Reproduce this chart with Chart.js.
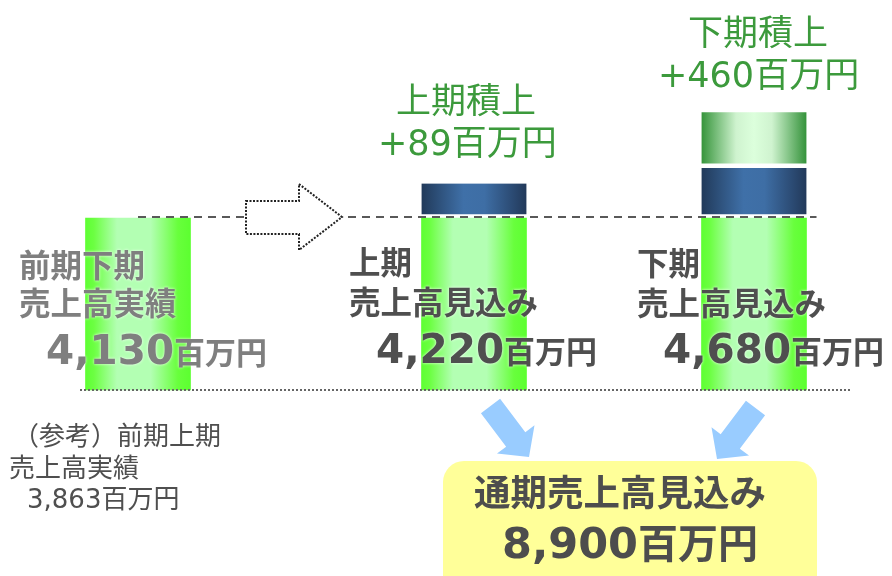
<!DOCTYPE html>
<html lang="ja">
<head>
<meta charset="utf-8">
<title>通期売上高見込み</title>
<script src="https://cdn.jsdelivr.net/npm/chart.js@4.4.1/dist/chart.umd.min.js"></script>
<style>
  html, body { margin: 0; padding: 0; background: #fff; }
  #wrap { position: relative; width: 892px; height: 576px; overflow: hidden; }
  #c { position: absolute; left: 0; top: 0; }
  .box { position: absolute; left: 443px; top: 461px; width: 374px; height: 150px; border-radius: 21px; background: #ffff99; }
  .t { position: absolute; white-space: pre; line-height: 1; font-family: "DejaVu Sans", "Noto Sans CJK JP", sans-serif; }
  .jp { font-family: "Noto Sans CJK JP", sans-serif; }
  .glow { text-shadow: 0 0 3px rgba(255,255,255,0.9); }
</style>
</head>
<body>
<div id="wrap">
  <canvas id="c" width="892" height="576"></canvas>
  <div class="box"></div>
</div>
<script>
// periods and amounts (百万円)
const periods = ['前期下期', '上期', '下期'];
const salesKind = ['売上高実績', '売上高見込み', '売上高見込み'];
const salesTotal = [4130, 4220, 4680];
const addOnTitle = [null, '上期積上', '下期積上'];
const addOnAmount = [null, 89, 460];
const prevFirstHalf = 3863;
const fullYearTotal = 8900;

// block heights as drawn on the slide (schematic, base block = 100)
const baseBlock = [100, 100, 100];
const firstHalfBlock = [null, 20, 29];
const secondHalfBlock = [null, null, 32.5];

// layout: the three columns sit on uneven slots
const slotIndex = [0, 6, 11];
const slotCount = 12;
const barW = 105;

const slotLabels = [];
for (let i = 0; i < slotCount; i++) slotLabels.push('');
slotIndex.forEach((s, i) => slotLabels[s] = periods[i]);

function toSlots(arr) {
    const out = new Array(slotCount).fill(null);
    slotIndex.forEach((s, i) => out[s] = arr[i]);
    return out;
}

function gradient(stops) {
    return (c) => {
        const chart = c.chart;
        if (!chart.chartArea) return stops[0][1];
        const cx = chart.scales.x.getPixelForValue(c.dataIndex);
        const g = chart.ctx.createLinearGradient(cx - barW / 2, 0, cx + barW / 2, 0);
        stops.forEach(([o, col]) => g.addColorStop(o, col));
        return g;
    };
}

const greenStops = [[0, '#5eff33'], [0.08, '#6cff42'], [0.3, '#b3ffb3'], [0.62, '#b3ffb3'], [0.88, '#68ff3c'], [1, '#5cff30']];
const blueStops = [[0, '#213a5a'], [0.4, '#3f70a8'], [0.6, '#3e6ea5'], [1, '#22395a']];
const paleStops = [[0, '#35943a'], [0.33, '#cff3cf'], [0.5, '#dcffdc'], [0.67, '#cff3cf'], [1, '#34923a']];

function blockArrow(ctx, x0, y0, x1, y1, shaftW, headW, headL) {
    const dx = x1 - x0, dy = y1 - y0;
    const len = Math.hypot(dx, dy);
    const ux = dx / len, uy = dy / len;
    const nx = -uy, ny = ux;
    const neckX = x1 - ux * headL, neckY = y1 - uy * headL;
    ctx.beginPath();
    ctx.moveTo(x0 + nx * shaftW / 2, y0 + ny * shaftW / 2);
    ctx.lineTo(neckX + nx * shaftW / 2, neckY + ny * shaftW / 2);
    ctx.lineTo(neckX + nx * headW / 2, neckY + ny * headW / 2);
    ctx.lineTo(x1, y1);
    ctx.lineTo(neckX - nx * headW / 2, neckY - ny * headW / 2);
    ctx.lineTo(neckX - nx * shaftW / 2, neckY - ny * shaftW / 2);
    ctx.lineTo(x0 - nx * shaftW / 2, y0 - ny * shaftW / 2);
    ctx.closePath();
}

const decorations = {
    id: 'decorations',
    afterDatasetsDraw(chart) {
        const { ctx, scales: { x, y } } = chart;
        const levelY = Math.round(y.getPixelForValue(baseBlock[0])) - 1;
        const zeroY = y.getPixelForValue(0);
        ctx.save();

        // dashed line at the 前期下期 level
        ctx.strokeStyle = '#595959';
        ctx.lineWidth = 2;
        ctx.setLineDash([8, 6]);
        ctx.beginPath();
        ctx.moveTo(x.getPixelForValue(slotIndex[0]), levelY);
        ctx.lineTo(x.getPixelForValue(slotIndex[2]) + barW / 2 + 10, levelY);
        ctx.stroke();

        // dotted outline arrow
        ctx.beginPath();
        ctx.moveTo(246, levelY - 16);
        ctx.lineTo(299, levelY - 16);
        ctx.lineTo(299, levelY - 33);
        ctx.lineTo(342, levelY);
        ctx.lineTo(299, levelY + 33);
        ctx.lineTo(299, levelY + 17);
        ctx.lineTo(246, levelY + 17);
        ctx.closePath();
        ctx.fillStyle = '#fff';
        ctx.fill();
        ctx.setLineDash([2, 1.5]);
        ctx.strokeStyle = '#222';
        ctx.lineWidth = 2;
        ctx.stroke();

        // dotted base line
        ctx.setLineDash([2, 2]);
        ctx.strokeStyle = '#666';
        ctx.beginPath();
        ctx.moveTo(80, zeroY);
        ctx.lineTo(850, zeroY);
        ctx.stroke();

        // blue arrows down to the total
        ctx.setLineDash([]);
        ctx.fillStyle = '#99ccff';
        blockArrow(ctx, 490.5, 406, 529, 457, 24, 47, 22);
        ctx.fill();
        blockArrow(ctx, 755.5, 408, 717, 459, 24, 47, 22);
        ctx.fill();

        ctx.restore();
    }
};

new Chart(document.getElementById('c'), {
    type: 'bar',
    data: {
        labels: slotLabels,
        datasets: [{
            label: '売上高',
            data: toSlots(baseBlock),
            backgroundColor: gradient(greenStops),
            clip: false
        },
        {
            label: addOnTitle[1],
            data: toSlots(firstHalfBlock),
            backgroundColor: gradient(blueStops),
            borderColor: '#fff',
            borderWidth: { top: 0, right: 0, bottom: 4, left: 0 },
            borderSkipped: false,
            clip: false
        },
        {
            label: addOnTitle[2],
            data: toSlots(secondHalfBlock),
            backgroundColor: gradient(paleStops),
            borderColor: '#fff',
            borderWidth: { top: 0, right: 0, bottom: 5, left: 0 },
            borderSkipped: false,
            clip: false
        }]
    },
    options: {
        responsive: false,
        animation: false,
        layout: { padding: { left: 110, right: 110, top: 0, bottom: 186 } },
        datasets: { bar: { barThickness: barW } },
        scales: {
            x: { display: false, stacked: true },
            y: { display: false, stacked: true, min: 0, max: 226.7 }
        },
        plugins: {
            legend: { display: false },
            tooltip: { enabled: false }
        }
    },
    plugins: [decorations]
});

// text labels
const wrap = document.getElementById('wrap');
const fmt = (n) => n.toLocaleString('en-US');

function addText(parts, x, baseline, size, color, opts = {}) {
    const el = document.createElement('div');
    el.className = 't' + (opts.jp ? ' jp' : '') + (opts.glow ? ' glow' : '');
    const asc = opts.jp ? 0.936 : 0.846;
    el.style.left = x + 'px';
    el.style.top = (baseline - asc * size) + 'px';
    el.style.fontSize = size + 'px';
    el.style.color = color;
    el.style.fontWeight = opts.bold ? 'bold' : 'normal';
    parts.forEach(([txt, sz]) => {
        const s = document.createElement('span');
        s.textContent = txt;
        if (sz) s.style.fontSize = sz + 'px';
        el.appendChild(s);
    });
    wrap.appendChild(el);
}

const labelPos = [
    { x: 19, b1: 277, b2: 315, nx: 46, nb: 364, color: '#7f7f7f' },
    { x: 349, b1: 274, b2: 314, nx: 376, nb: 363, color: '#4f4f4f' },
    { x: 637, b1: 275, b2: 315, nx: 663, nb: 363, color: '#4f4f4f' }
];
periods.forEach((p, i) => {
    const L = labelPos[i];
    addText([[p]], L.x, L.b1, 31.5, L.color, { jp: true, bold: true, glow: true });
    addText([[salesKind[i]]], L.x, L.b2, 31.5, L.color, { jp: true, bold: true, glow: true });
    addText([[fmt(salesTotal[i])], ['百万円', 31]], L.nx, L.nb, 40.5, L.color, { bold: true, glow: true });
});

const addOnPos = [null, { x: 396, b1: 113, nx: 378, b2: 156 }, { x: 688, b1: 45, nx: 658, b2: 88 }];
addOnTitle.forEach((t, i) => {
    if (!t) return;
    const P = addOnPos[i];
    addText([[t]], P.x, P.b1, 35, '#3c9a3c', { jp: true });
    addText([['+' + fmt(addOnAmount[i]) + '百万円']], P.nx, P.b2, 35, '#3c9a3c');
});

addText([['（参考）前期上期']], 13, 445, 26, '#4f4f4f', { jp: true });
addText([['売上高実績']], 9, 477, 26, '#4f4f4f', { jp: true });
addText([[fmt(prevFirstHalf) + '百万円']], 27, 508, 26, '#4f4f4f');

addText([['通期売上高見込み']], 474, 507, 36.5, '#4d4d4d', { jp: true, bold: true });
addText([[fmt(fullYearTotal)], ['百万円', 40]], 502, 558, 43, '#4d4d4d', { bold: true });
</script>
</body>
</html>
